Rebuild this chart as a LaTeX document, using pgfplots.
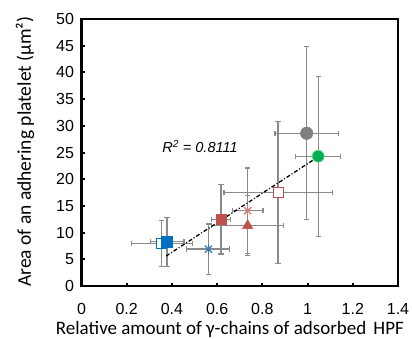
\documentclass[border=0pt]{standalone}
\usepackage{fontspec}
\setmainfont{Liberation Sans}
\newfontfamily\labfont{Carlito}
\usepackage{pgfplots}
\pgfplotsset{compat=1.18}
\definecolor{bgray}{HTML}{7F7F7F}
\definecolor{egray}{HTML}{8A8A8A}
\definecolor{bgreen}{HTML}{00B050}
\definecolor{bred}{HTML}{C0504D}
\definecolor{lred}{HTML}{CD7A78}
\definecolor{bblue}{HTML}{0070C0}
\definecolor{lblue}{HTML}{2E75B6}
\begin{document}
\begin{tikzpicture}
\useasboundingbox (0pt,0pt) rectangle (412pt,338pt);
\begin{axis}[
  at={(81.5pt,52pt)}, anchor=south west,
  scale only axis, width=316.5pt, height=267pt,
  xmin=0, xmax=1.4, ymin=0, ymax=50,
  xtick={0,0.2,...,1.4}, ytick={0,5,...,50},
  axis line style={line width=2.6pt},
  tick style={black, line width=2pt},
  major tick length=3.5pt,
  tick align=inside,
  xtick pos=bottom, ytick pos=left,
  /pgf/number format/assume math mode=true,
  ticklabel style={font=\fontsize{16}{18}\selectfont},
  yticklabel style={xshift=-4pt},
  xticklabel style={yshift=-14pt},
  xlabel={\labfont\fontsize{19}{21}\selectfont Relative amount of γ-chains of adsorbed\hspace{0.15em} HPF},
  ylabel={\labfont\fontsize{19.5}{22}\selectfont Area of an adhering platelet (μm²)},
  xlabel style={at={(axis description cs:0.469,0)}, anchor=center, yshift=-43pt},
  ylabel style={at={(axis description cs:-0.1785,0.503)}, anchor=center},
  clip=false,
]
% error bars
\addplot[draw=none, mark=none,
  error bars/.cd, x dir=both, y dir=both, x explicit, y explicit,
  error bar style={egray, line width=1.4pt},
  error mark options={rotate=90, egray, mark size=2.7pt, line width=1.2pt}]
  table[x=x, y=y, x error=ex, y error=ey] {
x y ex ey
0.996 28.6 0.140 16.2
1.047 24.3 0.100 15.0
0.870 17.5 0.240 13.3
0.735 14.1 0.068 8.0
0.735 11.3 0.160 5.6
0.617 12.5 0.041 6.5
0.561 6.9 0.095 4.7
0.379 8.3 0.074 4.6
0.355 8.0 0.135 4.3
};
% trend line
\addplot[black, line width=1.3pt, dash pattern=on 4pt off 2pt on 1pt off 2pt] coordinates {(0.374,5.6) (1.047,24.2)};
% markers
\addplot[only marks, mark=*, mark size=6.3pt, bgray, mark options={fill=bgray, draw=bgray}] coordinates {(0.996,28.6)};
\addplot[only marks, mark=*, mark size=6pt, bgreen, mark options={fill=bgreen, draw=bgreen!55!white, line width=0.8pt}] coordinates {(1.047,24.3)};
\addplot[only marks, mark=square*, mark size=5pt, bred, mark options={draw=bred, fill=white, line width=1.3pt}] coordinates {(0.870,17.5)};
\addplot[only marks, mark=x, mark size=5pt, lred, mark options={line width=1.3pt}] coordinates {(0.735,14.1)};
\addplot[only marks, mark=|, mark size=5pt, lred, mark options={line width=1.3pt}] coordinates {(0.735,14.1)};
\addplot[only marks, mark=triangle*, mark size=6pt, bred, mark options={fill=bred, draw=bred}] coordinates {(0.735,11.3)};
\addplot[only marks, mark=square*, mark size=5.2pt, bred, mark options={fill=bred, draw=bred}] coordinates {(0.617,12.5)};
\addplot[only marks, mark=x, mark size=5pt, lblue, mark options={line width=1.3pt}] coordinates {(0.561,6.9)};
\addplot[only marks, mark=|, mark size=5pt, lblue, mark options={line width=1.3pt}] coordinates {(0.561,6.9)};
\addplot[only marks, mark=square*, mark size=5pt, bblue, mark options={draw=bblue, fill=white, line width=1.3pt}] coordinates {(0.355,8.0)};
\addplot[only marks, mark=square*, mark size=5.5pt, bblue, mark options={fill=bblue, draw=bblue}] coordinates {(0.379,8.3)};
\node[font=\itshape\fontsize{14.5}{16}\selectfont, anchor=center] at (axis cs:0.524,26.1) {R\textsuperscript{2} = 0.8111};
\end{axis}
\end{tikzpicture}
\end{document}
